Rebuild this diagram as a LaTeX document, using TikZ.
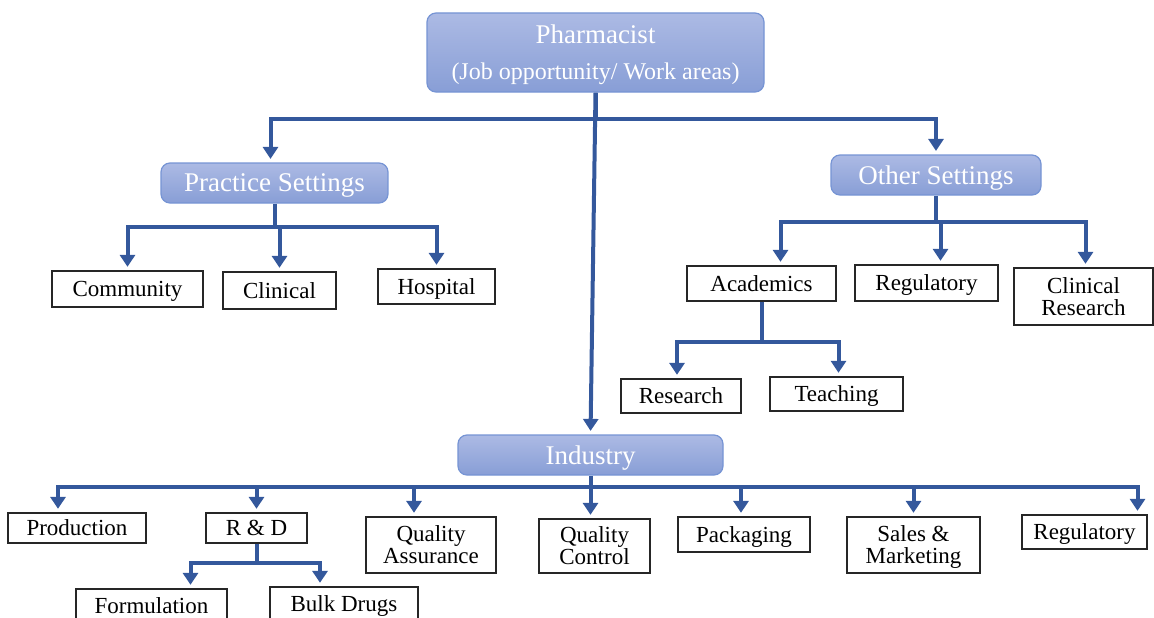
\documentclass[tikz,border=0pt]{standalone}
\usepackage{fontspec}
\setmainfont{Liberation Serif}
\usetikzlibrary{arrows.meta}
\definecolor{linkblue}{RGB}{52,88,156}
\definecolor{boxtop}{RGB}{172,186,228}
\definecolor{boxbot}{RGB}{136,158,214}
\definecolor{boxrim}{RGB}{118,148,212}
\tikzset{
  area/.style={rounded corners=9pt,draw=boxrim,line width=1.2pt,top color=boxtop,bottom color=boxbot,
    text=white,font=\fontsize{27}{32}\selectfont,inner sep=0pt,text depth=0pt},
  job/.style={draw=black!85,line width=1.3pt,fill=white,font=\fontsize{23}{22}\selectfont,align=center,
    inner sep=0pt,text depth=0pt},
  link/.style={draw=linkblue,line width=4pt},
  arr/.style={link,-{Triangle[width=15pt,length=12pt]},shorten >=3.5pt}
}
\begin{document}
\begin{tikzpicture}[x=1pt,y=-1pt]
	\useasboundingbox (0,0) rectangle (1154,618);
	\node[area,minimum width=337pt,minimum height=79pt,align=center] (ph) at (595.5,52.5)
		{Pharmacist\\[4pt]\fontsize{24}{28}\selectfont(Job opportunity/ Work areas)};
	\node[area,minimum width=227pt,minimum height=40pt] (ps) at (274.5,183) {Practice Settings};
	\node[area,minimum width=210pt,minimum height=40pt] (os) at (936,175) {Other Settings};
	\node[area,minimum width=265pt,minimum height=40pt] (ind) at (590.5,455) {Industry};
	
	\node[job,minimum width=151pt,minimum height=36pt] (cm) at (127.5,289) {Community};
	\node[job,minimum width=113pt,minimum height=37pt] (cl) at (279.5,290.5) {Clinical};
	\node[job,minimum width=117pt,minimum height=35pt] (hp) at (436.5,286.5) {Hospital};
	
	\node[job,minimum width=149pt,minimum height=35pt] (ac) at (761.5,283.5) {Academics};
	\node[job,minimum width=143pt,minimum height=36pt] (rg) at (926.5,283) {Regulatory};
	\node[job,minimum width=139pt,minimum height=57pt] (cr) at (1083.5,296.5) {Clinical\\Research};
	\node[job,minimum width=120pt,minimum height=34pt] (rs) at (681,396) {Research};
	\node[job,minimum width=133pt,minimum height=34pt] (tc) at (836.5,394) {Teaching};
	
	\node[job,minimum width=138pt,minimum height=30pt] (pr) at (77,528) {Production};
	\node[job,minimum width=101pt,minimum height=30pt] (rd) at (256.5,528) {R \& D};
	\node[job,minimum width=130pt,minimum height=56pt] (qa) at (431,545) {Quality\\Assurance};
	\node[job,minimum width=111pt,minimum height=54pt] (qc) at (594.5,546) {Quality\\Control};
	\node[job,minimum width=132pt,minimum height=35pt] (pk) at (744,534.5) {Packaging};
	\node[job,minimum width=133pt,minimum height=56pt] (sm) at (913.5,545) {Sales \&\\Marketing};
	\node[job,minimum width=125pt,minimum height=34pt] (rgi) at (1084.5,532) {Regulatory};
	\node[job,minimum width=151pt,minimum height=34pt] (fm) at (151.5,606) {Formulation};
	\node[job,minimum width=148pt,minimum height=34pt] (bd) at (344,604) {Bulk Drugs};
	
	\coordinate (phbus) at (ph.south |- 0,119);
	\draw[link] (ph.south)--(phbus);
	\draw[arr] (phbus) -| ([xshift=-4pt]ps.north);
	\draw[arr] (phbus) -| (os.north);
	\draw[arr] (ph.south)--(ind.north);
	
	\coordinate (psbus) at (ps.south |- 0,227);
	\draw[link] (ps.south)--(psbus);
	\foreach \n in {cm,cl,hp}{
		\draw[arr] (psbus) -| (\n.north);
	}
	
	\coordinate (osbus) at (os.south |- 0,222);
	\draw[link] (os.south)--(osbus);
	\foreach \n/\s in {ac/19,rg/14,cr/2}{
		\draw[arr] (osbus) -| ([xshift=\s pt]\n.north);
	}
	
	\coordinate (acbus) at (ac.south |- 0,342);
	\draw[link] (ac.south)--(acbus);
	\foreach \n/\s in {rs/-4,tc/2}{
		\draw[arr] (acbus) -| ([xshift=\s pt]\n.north);
	}
	
	\coordinate (indbus) at (ind.south |- 0,487);
	\draw[link] (ind.south)--(indbus);
	\foreach \n/\s in {pr/-19,rd/0,qa/-17,qc/-4,pk/-3,sm/0,rgi/53}{
		\draw[arr] (indbus) -| ([xshift=\s pt]\n.north);
	}
	
	\coordinate (rdbus) at (rd.south |- 0,563);
	\draw[link] (rd.south)--(rdbus);
	\foreach \n/\s in {fm/39,bd/-24}{
		\draw[arr] (rdbus) -| ([xshift=\s pt]\n.north);
	}
\end{tikzpicture}
\end{document}
